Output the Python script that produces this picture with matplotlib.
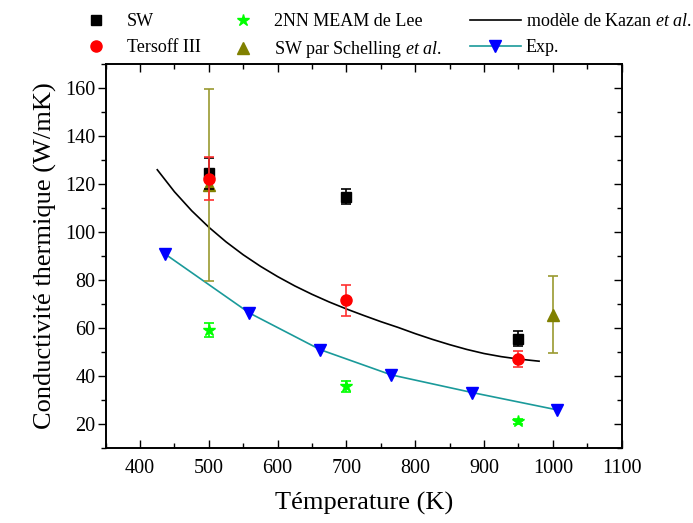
import matplotlib
matplotlib.use('Agg')
import matplotlib.pyplot as plt
from matplotlib.ticker import MultipleLocator
from matplotlib.lines import Line2D

plt.rcParams['font.family'] = ['Liberation Serif', 'DejaVu Serif']
plt.rcParams['mathtext.fontset'] = 'custom'
plt.rcParams['mathtext.rm'] = 'Liberation Serif'
plt.rcParams['mathtext.it'] = 'Liberation Serif:italic'

# SW
sw_T = [500, 700, 950]
sw_k = [124.5, 114.8, 55.5]
sw_err = [6.5, 3.0, 3.0]

# Tersoff III
ters_T = [500, 700, 950]
ters_k = [122.2, 71.5, 47.0]
ters_err = [9.0, 6.5, 3.4]

# 2NN MEAM de Lee
meam_T = [500, 700, 950]
meam_k = [59.0, 35.7, 21.0]
meam_err = [3.0, 2.3, 1.0]

# SW par Schelling et al.
sch_T = [500, 1000]
sch_k = [119.5, 65.5]
sch_err = [40.0, 16.0]

# modele de Kazan et al.
kaz_T = [425, 450, 475, 500, 525, 550, 575, 600, 625, 650, 675, 700,
         725, 750, 775, 800, 825, 850, 875, 900, 925, 950, 980]
kaz_k = [126.0, 116.8, 108.9, 102.0, 95.9, 90.5, 85.7, 81.4, 77.5, 74.0, 70.8, 67.9,
         65.2, 62.6, 60.2, 57.6, 55.2, 53.0, 51.0, 49.3, 48.0, 47.0, 46.1]

# Exp.
exp_T = [436, 559, 662, 765, 883, 1006]
exp_k = [90.9, 66.2, 50.9, 40.4, 33.0, 25.8]

fig = plt.figure(figsize=(6.93, 5.23), dpi=100)
ax = fig.add_axes([0.1525, 0.144, 0.7445, 0.733])

ax.plot(kaz_T, kaz_k, color='black', lw=1.2, zorder=2)
ax.plot(exp_T, exp_k, color='#1a9a9a', lw=1.2, marker='v', ms=9,
        mfc='blue', mec='blue', zorder=3)

ax.errorbar(sch_T, sch_k, yerr=sch_err, fmt='^', ms=8, color='#808000',
            ecolor='#9a9a30', elinewidth=1.2, capsize=3.5, capthick=1.2, zorder=4)
ax.errorbar(meam_T, meam_k, yerr=meam_err, fmt='*', ms=9, color='#00ff00',
            elinewidth=1.2, capsize=3.5, capthick=1.2, zorder=4)
ax.errorbar(sw_T, sw_k, yerr=sw_err, fmt='s', ms=7, color='black',
            elinewidth=1.2, capsize=3.5, capthick=1.2, zorder=5)
ax.errorbar(ters_T, ters_k, yerr=ters_err, fmt='o', ms=8, color='red',
            ecolor='#ff3030', elinewidth=1.2, capsize=3.5, capthick=1.2, zorder=6)

ax.set_xlim(350, 1100)
ax.set_ylim(10, 170)
ax.xaxis.set_major_locator(MultipleLocator(100))
ax.xaxis.set_minor_locator(MultipleLocator(50))
ax.yaxis.set_major_locator(MultipleLocator(20))
ax.yaxis.set_minor_locator(MultipleLocator(10))
ax.set_xticks(range(400, 1101, 100))
ax.set_yticks(range(20, 161, 20))

ax.tick_params(axis='x', which='both', direction='in', top=True, bottom=True,
               labelsize=14.5, width=1.0, pad=8)
ax.tick_params(axis='x', which='major', length=5.5)
ax.tick_params(axis='x', which='minor', length=3.5)
ax.tick_params(axis='y', which='both', direction='out', left=True, right=False,
               labelsize=14.5, width=1.0, pad=2)
ax.tick_params(axis='y', which='major', length=5.5)
ax.tick_params(axis='y', which='minor', length=3.5)
for s in ax.spines.values():
    s.set_linewidth(1.2)

ax2 = ax.twinx()
ax2.set_ylim(10, 170)
ax2.yaxis.set_major_locator(MultipleLocator(20))
ax2.yaxis.set_minor_locator(MultipleLocator(10))
ax2.tick_params(axis='y', which='both', direction='in', right=True, labelright=False, width=1.0)
ax2.tick_params(axis='y', which='major', length=5.5)
ax2.tick_params(axis='y', which='minor', length=3.5)
for s in ax2.spines.values():
    s.set_linewidth(1.2)

ax.set_xlabel('Témperature (K)', fontsize=19, labelpad=10)
ax.set_ylabel('Conductivité thermique (W/mK)', fontsize=19, labelpad=6)

h_sw = Line2D([], [], ls='none', marker='s', ms=7, color='black')
h_ters = Line2D([], [], ls='none', marker='o', ms=8, color='red')
h_meam = Line2D([], [], ls='none', marker='*', ms=9, color='#00ff00')
h_sch = Line2D([], [], ls='none', marker='^', ms=8, color='#808000')
h_kaz = Line2D([], [], color='black', lw=1.2)
h_exp = Line2D([], [], color='#1a9a9a', lw=1.2, marker='v', ms=9, mfc='blue', mec='blue')

groups = [
    ([h_sw, h_ters], ['SW', 'Tersoff III'], 71),
    ([h_meam, h_sch], ['2NN MEAM de Lee', r'SW par Schelling $\mathit{et\ al.}$'], 218),
    ([h_kaz, h_exp], [r'modèle de Kazan $\mathit{et\ al.}$', 'Exp.'], 470),
]
W, H = 693, 523
for handles, labels, xpix in groups:
    leg = fig.legend(handles, labels, loc='upper left',
                     bbox_to_anchor=(xpix / W, 1 - 13 / H),
                     frameon=False, fontsize=13, handlelength=2.8,
                     handletextpad=0.3, labelspacing=0.5,
                     borderpad=0, borderaxespad=0)

fig.savefig('out.png', dpi=100)
